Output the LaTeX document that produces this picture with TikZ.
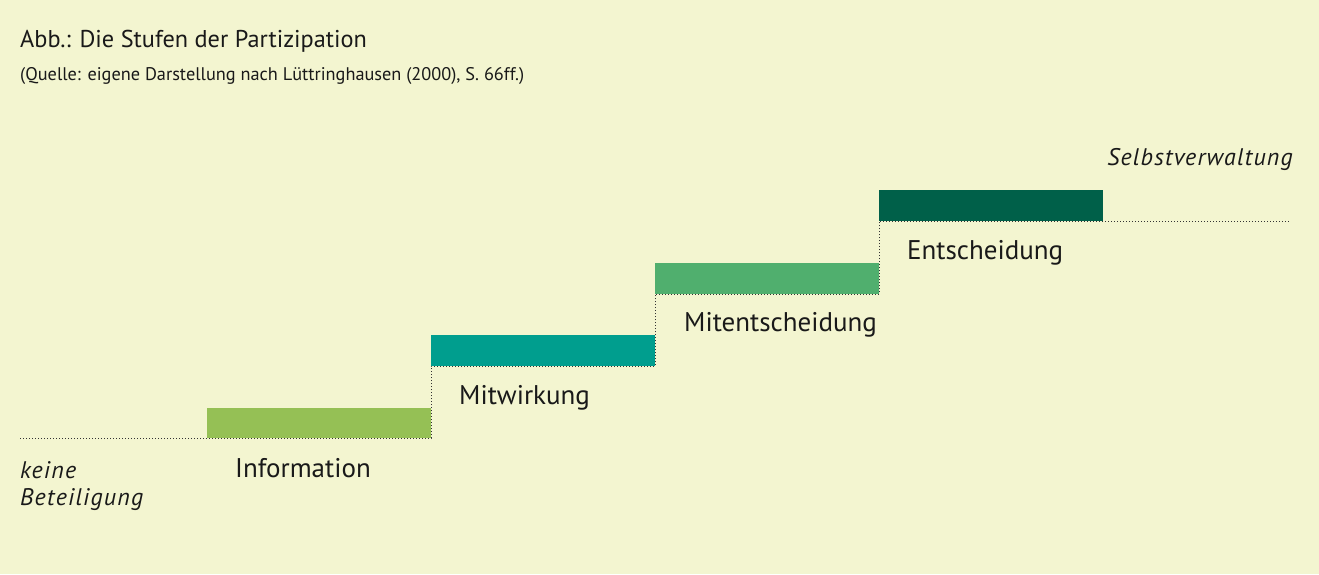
\documentclass[tikz,border=0pt]{standalone}
\usepackage{fontspec}
\setmainfont{PT Sans}
\begin{document}
\begin{tikzpicture}[x=1pt,y=-1pt,
  lbl/.style={anchor=base west,inner sep=0pt,font=\fontsize{27}{31}\selectfont,text=black!90},
  ilbl/.style={anchor=base west,inner sep=0pt,font=\fontsize{24}{28}\selectfont\itshape\addfontfeature{LetterSpace=5},text=black!90},
  dots/.style={line width=1pt,dash pattern=on 1pt off 2pt,black!80}]
\definecolor{bgc}{HTML}{F3F5D0}
\definecolor{c1}{HTML}{95C055}
\definecolor{c2}{HTML}{009E8E}
\definecolor{c3}{HTML}{50AF6E}
\definecolor{c4}{HTML}{006049}
\fill[bgc] (0,0) rectangle (1319,574);
\useasboundingbox (0,0) rectangle (1319,574);
% staircase dotted line
\coordinate (s0) at (20,438);
\coordinate (s1) at (431,438);
\coordinate (s2) at (431,366);
\coordinate (s3) at (655,366);
\coordinate (s4) at (655,294);
\coordinate (s5) at (879,294);
\coordinate (s6) at (879,221);
\coordinate (s7) at (1290,221);
\draw[dots] (s0) -- (s1) -- (s2) -- (s3) -- (s4) -- (s5) -- (s6) -- (s7);
% bars
\fill[c1] (207,408) rectangle (431,438);
\fill[c2] (431,335) rectangle (655,366);
\fill[c3] (655,263) rectangle (879,294);
\fill[c4] (879,190) rectangle (1103,221);
% labels
\node[lbl] (info) at (235,477) {Information};
\node[lbl] (mitw) at (459,404) {Mitwirkung};
\node[lbl] (mite) at (684,331) {Mitentscheidung};
\node[lbl] (ents) at (907,259) {Entscheidung};
\node[ilbl,anchor=base east] (selb) at (1293,165) {Selbstverwaltung};
\node[ilbl] (keine) at (20,478) {keine};
\node[ilbl] (bet) at (20,505) {Beteiligung};
\node[anchor=base west,inner sep=0pt,font=\fontsize{24.3}{28}\selectfont,text=black!90] (title) at (20,47) {Abb.: Die Stufen der Partizipation};
\node[anchor=base west,inner sep=0pt,font=\fontsize{18.3}{21}\selectfont,text=black!90] (src) at (20,80) {(Quelle: eigene Darstellung nach Lüttringhausen (2000), S. 66ff.)};
\end{tikzpicture}
\end{document}
